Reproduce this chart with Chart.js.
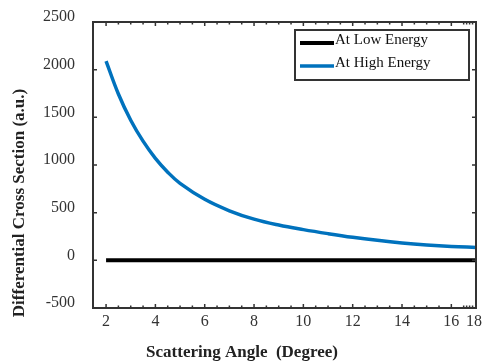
<!DOCTYPE html>
<html>
<head>
<meta charset="utf-8">
<script src="https://cdn.jsdelivr.net/npm/chart.js@4"></script>
<style>
html, body { margin: 0; padding: 0; background: #fff; }
</style>
</head>
<body>
<canvas id="chart" width="482" height="362"></canvas>
<script>
// values
const highAngles = [2, 2.5, 3, 3.5, 4, 4.5, 5, 6, 7, 8, 9, 10, 11, 12, 13, 14, 15, 16, 17];
const highEnergy = [2090, 1745, 1470, 1250, 1070, 925, 808, 640, 520, 432, 370, 322, 280, 242, 210, 183, 162, 146, 135];
const lowAngles = [2, 17];
const lowEnergy = [0, 0];

// the last label sits squeezed at the right edge of the axis, as in the source figure
const xTickValues = [2, 4, 6, 8, 10, 12, 14, 16, 16.92];
const xTickLabels = ['2', '4', '6', '8', '10', '12', '14', '16', '18'];
const yTickValues = [-500, 0, 500, 1000, 1500, 2000, 2500];

const serif = "'Liberation Serif', 'Times New Roman', serif";
const axisColor = '#333';

const framePlugin = {
    id: 'frame',
    afterDatasetsDraw(chart) {
        const ctx = chart.ctx;
        const a = chart.chartArea;
        const xs = chart.scales.x, ys = chart.scales.y;
        ctx.save();
        ctx.strokeStyle = axisColor;
        ctx.lineWidth = 2;
        ctx.strokeRect(a.left, a.top, a.right - a.left, a.bottom - a.top);

        // inward ticks, matlab style
        ctx.lineWidth = 1.5;
        ctx.beginPath();
        for (const v of yTickValues) {
            const y = ys.getPixelForValue(v);
            ctx.moveTo(a.left, y); ctx.lineTo(a.left + 4, y);
            ctx.moveTo(a.right, y); ctx.lineTo(a.right - 4, y);
        }
        const minor = [];
        for (let v = 2; v <= 16.5; v += 0.5) minor.push(v);
        minor.push(16.62, 16.74, 16.86);
        for (const v of minor) {
            const x = xs.getPixelForValue(v);
            const len = (v % 2 === 0) ? 4 : 2.5;
            ctx.moveTo(x, a.bottom); ctx.lineTo(x, a.bottom - len);
            ctx.moveTo(x, a.top); ctx.lineTo(x, a.top + len);
        }
        ctx.stroke();

        // legend
        const lx = 295, ly = 30, lw = 174, lh = 50;
        ctx.fillStyle = '#fff';
        ctx.fillRect(lx, ly, lw, lh);
        ctx.lineWidth = 2;
        ctx.strokeStyle = axisColor;
        ctx.strokeRect(lx, ly, lw, lh);
        ctx.font = '15px ' + serif;
        ctx.textBaseline = 'alphabetic';
        ctx.textAlign = 'left';
        chart.data.datasets.forEach((ds, i) => {
            const y = 43 + i * 23;
            ctx.strokeStyle = ds.borderColor;
            ctx.lineWidth = ds.borderWidth;
            ctx.beginPath();
            ctx.moveTo(300, y); ctx.lineTo(334, y);
            ctx.stroke();
            ctx.fillStyle = '#111';
            ctx.fillText(ds.label, 335, y + 1);
        });

        // axis titles
        ctx.fillStyle = '#222';
        ctx.font = 'bold 17px ' + serif;
        ctx.textAlign = 'center';
        ctx.fillText('Scattering Angle  (Degree)', 242, 357);
        ctx.translate(24, 203);
        ctx.rotate(-Math.PI / 2);
        ctx.fillText('Differential Cross Section (a.u.)', 0, 0);
        ctx.restore();
    }
};

const ctx = document.getElementById('chart');
new Chart(ctx, {
    type: 'line',
    data: {
        datasets: [
            {
                label: 'At Low Energy',
                data: lowAngles.map((x, i) => ({ x: x, y: lowEnergy[i] })),
                borderColor: '#000',
                borderWidth: 4,
                pointRadius: 0
            },
            {
                label: 'At High Energy',
                data: highAngles.map((x, i) => ({ x: x, y: highEnergy[i] })),
                borderColor: '#0072BD',
                borderWidth: 3.5,
                pointRadius: 0,
                tension: 0.4
            }
        ]
    },
    options: {
        responsive: false,
        animation: false,
        devicePixelRatio: 1,
        layout: { padding: { top: 22, right: 6, left: 0, bottom: 0 } },
        plugins: {
            legend: { display: false },
            tooltip: { enabled: false }
        },
        scales: {
            x: {
                type: 'linear',
                min: 1.47,
                max: 17,
                grid: { display: false, drawTicks: false },
                border: { display: false },
                afterBuildTicks: s => { s.ticks = xTickValues.map(v => ({ value: v })); },
                afterFit: s => { s.height = 54; s.paddingLeft = 0; s.paddingRight = 0; },
                ticks: {
                    autoSkip: false,
                    maxRotation: 0,
                    padding: 4,
                    color: axisColor,
                    font: { family: serif, size: 16 },
                    callback: (v, i) => xTickLabels[i]
                }
            },
            y: {
                min: -500,
                max: 2500,
                grid: { display: false, drawTicks: false },
                border: { display: false },
                afterBuildTicks: s => { s.ticks = yTickValues.map(v => ({ value: v })); },
                afterFit: s => { s.width = 93; s.paddingTop = 0; s.paddingBottom = 0; },
                ticks: {
                    padding: 18,
                    labelOffset: -5,
                    color: axisColor,
                    font: { family: serif, size: 16 },
                    callback: v => String(v)
                }
            }
        }
    },
    plugins: [framePlugin]
});
</script>
</body>
</html>
